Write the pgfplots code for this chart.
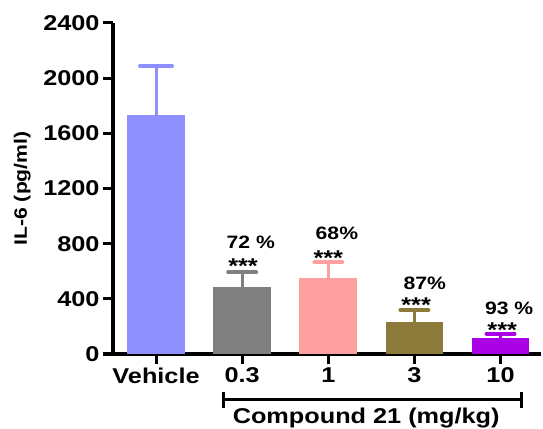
\documentclass[border=0pt]{standalone}
\usepackage{fontspec}
\setmainfont{Liberation Sans}[FakeStretch=1.18]
\usepackage{pgfplots}
\pgfplotsset{compat=1.18}
\definecolor{cveh}{RGB}{143,143,255}
\definecolor{cgray}{RGB}{128,128,128}
\definecolor{cpink}{RGB}{255,160,160}
\definecolor{colive}{RGB}{139,122,58}
\definecolor{cpurp}{RGB}{170,0,230}
\newcommand{\bigf}{\fontsize{21.5}{25}\selectfont\bfseries}
\newcommand{\midf}{\fontsize{18}{21}\selectfont\bfseries}
\begin{document}
\begin{tikzpicture}
\useasboundingbox (0,0) rectangle (543bp,429bp);
\begin{axis}[
  at={(113bp,75bp)}, anchor=south west,
  width=428bp, height=331bp, scale only axis,
  xmin=-0.5, xmax=4.47, ymin=0, ymax=2400,
  axis x line*=bottom, axis y line*=left,
  axis line style={line width=3.5bp, -},
  ytick={0,400,...,2400},
  xtick={0,1,2,3,4}, xticklabels={Vehicle,0.3,1,3,10},
  tick align=outside, major tick length=10bp,
  tick style={line width=3bp, black},
  /pgf/number format/assume math mode=true,
  /pgf/number format/1000 sep={},
  scaled y ticks=false,
  ticklabel style={font=\bigf},
  ylabel={IL-6 (pg/ml)},
  ylabel style={font=\fontsize{18}{21}\selectfont\bfseries, at={(axis description cs:-0.212,0.5)}, anchor=center},
  ybar, bar width=0.67, bar shift=0pt,
  clip=false,
]
\addplot[fill=cveh, draw=none, error bars/.cd, y dir=plus, y explicit,
  error bar style={line width=3bp, cveh},
  error mark options={line width=4bp, cveh, mark size=16bp, line cap=round, rotate=90}]
  coordinates {(0,1733) +- (0,355)};
\addplot[fill=cgray, draw=none, error bars/.cd, y dir=plus, y explicit,
  error bar style={line width=3bp, cgray},
  error mark options={line width=4bp, cgray, mark size=14bp, line cap=round, rotate=90}]
  coordinates {(1,488) +- (0,104)};
\addplot[fill=cpink, draw=none, error bars/.cd, y dir=plus, y explicit,
  error bar style={line width=3bp, cpink},
  error mark options={line width=4bp, cpink, mark size=14bp, line cap=round, rotate=90}]
  coordinates {(2,551) +- (0,114)};
\addplot[fill=colive, draw=none, error bars/.cd, y dir=plus, y explicit,
  error bar style={line width=3bp, colive},
  error mark options={line width=4bp, colive, mark size=14bp, line cap=round, rotate=90}]
  coordinates {(3,232) +- (0,87)};
\addplot[fill=cpurp, draw=none, error bars/.cd, y dir=plus, y explicit,
  error bar style={line width=3bp, cpurp},
  error mark options={line width=4bp, cpurp, mark size=14bp, line cap=round, rotate=90}]
  coordinates {(4,116) +- (0,31)};
\node[font=\midf] at (axis cs:1.10,812) {72 \%};
\node[font=\bigf] at (axis cs:1.01,640) {***};
\node[font=\midf] at (axis cs:2.10,877) {68\%};
\node[font=\bigf] at (axis cs:2.00,698) {***};
\node[font=\midf] at (axis cs:3.12,515) {87\%};
\node[font=\bigf] at (axis cs:3.02,357) {***};
\node[font=\midf] at (axis cs:4.10,334) {93 \%};
\node[font=\bigf] at (axis cs:4.02,176) {***};
\draw[line width=3bp] (axis cs:0.78,-333) -- (axis cs:4.24,-333);
\draw[line width=3bp] ([yshift=-8bp]axis cs:0.78,-333) -- ([yshift=8bp]axis cs:0.78,-333);
\draw[line width=3bp] ([yshift=-8bp]axis cs:4.24,-333) -- ([yshift=8bp]axis cs:4.24,-333);
\node[font=\bigf] at (axis cs:2.44,-464) {Compound 21 (mg/kg)};
\end{axis}
\end{tikzpicture}
\end{document}
